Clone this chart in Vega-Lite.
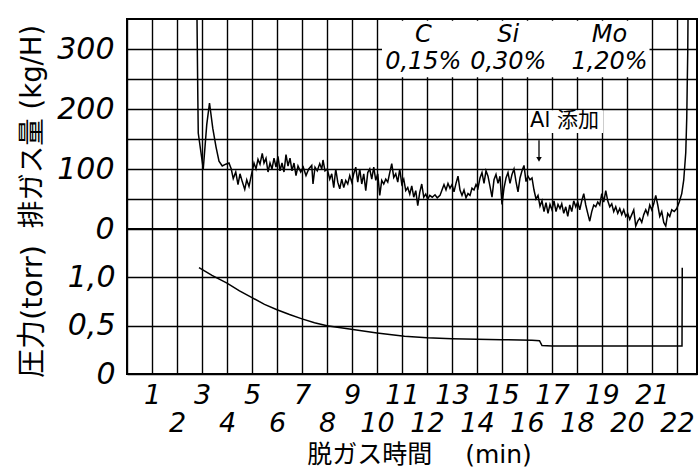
{
"$schema": "https://vega.github.io/schema/vega-lite/v6.json",
"background": "white",
"padding": {"left": 16, "top": 15, "right": 2, "bottom": 2},
"spacing": 0,
"bounds": "flush",
"config": {
  "view": {"stroke": "black", "strokeWidth": 2},
  "axis": {"gridColor": "black", "gridWidth": 1.4, "gridOpacity": 1, "domain": false, "ticks": false, "labelColor": "black", "titleColor": "black", "labelFont": "DejaVu Sans", "labelFontStyle": "italic", "labelFontWeight": "normal", "titleFont": "DejaVu Sans, Noto Sans CJK JP", "titleFontWeight": "normal", "labelOverlap": false, "labelBound": false, "labelFlush": false}
},
"datasets": {
"gas": [
{"t":2.8,"v":350},{"t":2.83,"v":230},{"t":2.85,"v":160},{"t":3.05,"v":100},{"t":3.19,"v":174},{"t":3.3,"v":210},{"t":3.43,"v":168},{"t":3.56,"v":137},{"t":3.68,"v":113},{"t":3.81,"v":105},
{"t":3.95,"v":108},{"t":4.08,"v":110},{"t":4.17,"v":100},{"t":4.25,"v":84},{"t":4.35,"v":95},{"t":4.44,"v":74},{"t":4.52,"v":92},{"t":4.61,"v":79},{"t":4.71,"v":66},{"t":4.79,"v":82},{"t":4.88,"v":71},{"t":4.97,"v":89},{"t":5.08,"v":110},{"t":5.16,"v":100},{"t":5.24,"v":116},{"t":5.32,"v":108},{"t":5.41,"v":126},{"t":5.48,"v":110},{"t":5.56,"v":118},{"t":5.64,"v":95},{"t":5.72,"v":110},{"t":5.80,"v":100},{"t":5.88,"v":118},{"t":5.96,"v":103},{"t":6.04,"v":121},{"t":6.12,"v":97},{"t":6.20,"v":110},{"t":6.28,"v":95},{"t":6.36,"v":124},{"t":6.44,"v":105},{"t":6.52,"v":118},{"t":6.60,"v":97},{"t":6.68,"v":110},{"t":6.76,"v":89},{"t":6.84,"v":105},{"t":6.95,"v":95},{"t":7.05,"v":103},{"t":7.16,"v":89},{"t":7.27,"v":100},
{"t":7.39,"v":106},{"t":7.44,"v":75},{"t":7.52,"v":103},{"t":7.61,"v":97},{"t":7.71,"v":109},{"t":7.79,"v":100},{"t":7.84,"v":115},{"t":7.92,"v":97},{"t":8.01,"v":100},{"t":8.11,"v":83},{"t":8.19,"v":92},{"t":8.27,"v":69},{"t":8.35,"v":100},{"t":8.43,"v":78},{"t":8.51,"v":67},{"t":8.59,"v":83},{"t":8.67,"v":69},{"t":8.75,"v":81},{"t":8.83,"v":75},{"t":8.91,"v":89},{"t":8.99,"v":78},{"t":9.07,"v":92},{"t":9.15,"v":103},{"t":9.23,"v":78},{"t":9.31,"v":100},{"t":9.39,"v":75},{"t":9.47,"v":92},{"t":9.55,"v":64},{"t":9.63,"v":94},{"t":9.71,"v":100},{"t":9.79,"v":83},{"t":9.87,"v":103},{"t":9.95,"v":81},{"t":10.03,"v":92},{"t":10.11,"v":56},{"t":10.19,"v":81},{"t":10.27,"v":75},{"t":10.35,"v":83},{"t":10.43,"v":78},{"t":10.51,"v":94},{"t":10.59,"v":109},{"t":10.67,"v":86},{"t":10.75,"v":92},{"t":10.83,"v":78},{"t":10.91,"v":100},{"t":10.99,"v":75},{"t":11.07,"v":83},{"t":11.15,"v":64},{"t":11.23,"v":69},{"t":11.31,"v":58},{"t":11.39,"v":72},{"t":11.47,"v":53},{"t":11.55,"v":64},{"t":11.63,"v":39},{"t":11.71,"v":61},{"t":11.79,"v":75},{"t":11.87,"v":53},{"t":11.95,"v":58},{"t":12.03,"v":50},{"t":12.11,"v":56},{"t":12.21,"v":53},{"t":12.32,"v":57},
{"t":12.41,"v":52},{"t":12.52,"v":56},{"t":12.60,"v":65},{"t":12.68,"v":74},{"t":12.76,"v":65},{"t":12.84,"v":76},{"t":12.92,"v":68},{"t":13.00,"v":74},{"t":13.08,"v":62},{"t":13.16,"v":76},{"t":13.24,"v":88},{"t":13.32,"v":65},{"t":13.40,"v":56},{"t":13.48,"v":65},{"t":13.56,"v":52},{"t":13.64,"v":59},{"t":13.72,"v":56},{"t":13.80,"v":68},{"t":13.88,"v":65},{"t":13.96,"v":74},{"t":14.04,"v":68},{"t":14.12,"v":85},{"t":14.20,"v":94},{"t":14.28,"v":76},{"t":14.36,"v":97},{"t":14.44,"v":88},{"t":14.52,"v":71},{"t":14.60,"v":53},{"t":14.68,"v":82},{"t":14.76,"v":91},{"t":14.84,"v":76},{"t":14.92,"v":88},{"t":15.00,"v":41},{"t":15.08,"v":68},{"t":15.16,"v":85},{"t":15.24,"v":94},{"t":15.32,"v":76},{"t":15.40,"v":91},{"t":15.48,"v":100},{"t":15.56,"v":79},{"t":15.64,"v":62},{"t":15.72,"v":85},{"t":15.80,"v":97},{"t":15.88,"v":106},{"t":15.96,"v":79},{"t":16.04,"v":88},{"t":16.12,"v":82},{"t":16.20,"v":85},{"t":16.28,"v":65},{"t":16.36,"v":50},{"t":16.44,"v":56},{"t":16.52,"v":38},{"t":16.60,"v":47},{"t":16.68,"v":29},{"t":16.76,"v":44},{"t":16.84,"v":26},{"t":16.92,"v":41},{"t":17.00,"v":32},{"t":17.08,"v":47},{"t":17.16,"v":29},{"t":17.24,"v":41},
{"t":17.32,"v":34},{"t":17.39,"v":42},{"t":17.47,"v":26},{"t":17.55,"v":37},{"t":17.63,"v":21},{"t":17.71,"v":40},{"t":17.79,"v":29},{"t":17.87,"v":47},{"t":17.95,"v":37},{"t":18.03,"v":45},{"t":18.11,"v":32},{"t":18.19,"v":47},{"t":18.27,"v":59},{"t":18.35,"v":40},{"t":18.43,"v":26},{"t":18.51,"v":13},{"t":18.59,"v":29},{"t":18.67,"v":40},{"t":18.75,"v":37},{"t":18.83,"v":45},{"t":18.91,"v":40},{"t":18.99,"v":59},{"t":19.07,"v":45},{"t":19.15,"v":64},{"t":19.23,"v":47},{"t":19.31,"v":37},{"t":19.39,"v":42},{"t":19.47,"v":29},{"t":19.55,"v":37},{"t":19.63,"v":26},{"t":19.71,"v":34},{"t":19.79,"v":24},{"t":19.87,"v":32},{"t":19.95,"v":21},{"t":20.03,"v":26},{"t":20.11,"v":16},{"t":20.19,"v":24},{"t":20.27,"v":32},{"t":20.35,"v":5},{"t":20.43,"v":13},{"t":20.51,"v":18},{"t":20.59,"v":11},{"t":20.67,"v":24},{"t":20.75,"v":32},{"t":20.83,"v":24},{"t":20.91,"v":40},{"t":20.99,"v":32},{"t":21.07,"v":42},{"t":21.15,"v":56},{"t":21.23,"v":40},{"t":21.31,"v":21},{"t":21.39,"v":29},{"t":21.47,"v":11},{"t":21.55,"v":5},{"t":21.63,"v":26},{"t":21.71,"v":21},{"t":21.79,"v":32},{"t":21.89,"v":29},{"t":21.99,"v":34},{"t":22.09,"v":45},{"t":22.19,"v":59},{"t":22.27,"v":82},{"t":22.35,"v":127},{"t":22.39,"v":185},{"t":22.41,"v":242},{"t":22.43,"v":296},{"t":22.44,"v":350}
],
"pressure": [
{"t":2.88,"v":1.10},{"t":3.4,"v":1.02},{"t":4.0,"v":0.94},{"t":4.5,"v":0.86},{"t":5.0,"v":0.79},{"t":5.5,"v":0.72},{"t":6.0,"v":0.665},{"t":6.5,"v":0.615},{"t":7.0,"v":0.57},{"t":7.5,"v":0.53},{"t":8.0,"v":0.50},{"t":8.9,"v":0.465},{"t":10.0,"v":0.425},{"t":11.1,"v":0.39},{"t":12.0,"v":0.375},{"t":13.0,"v":0.365},{"t":14.0,"v":0.36},{"t":15.0,"v":0.355},{"t":16.2,"v":0.35},{"t":16.5,"v":0.345},{"t":16.6,"v":0.295},{"t":17.0,"v":0.29},{"t":20.0,"v":0.29},{"t":22.2,"v":0.29},{"t":22.21,"v":1.1}
]
},
"vconcat": [
{
  "width": 570, "height": 210,
  "resolve": {"axis": {"x": "independent", "y": "independent"}},
  "layer": [
    {"data": {"name": "gas"}, "mark": {"type": "line", "color": "black", "strokeWidth": 1.5},
     "encoding": {
       "x": {"field": "t", "type": "quantitative", "scale": {"domain": [0, 22.8], "nice": false, "zero": false},
             "axis": {"values": [0,1,2,3,4,5,6,7,8,9,10,11,12,13,14,15,16,17,18,19,20,21,22], "labels": false, "title": null, "grid": true, "minExtent": 0, "maxExtent": 0}},
       "y": {"field": "v", "type": "quantitative", "scale": {"domain": [0, 350], "nice": false},
             "axis": {"values": [0,50,100,150,200,250,300], "grid": true, "labelExpr": "datum.value % 100 == 0 ? datum.label : ''", "labelFontSize": 30, "labelPadding": 13, "title": "排ガス量 (kg/H)", "titleFontSize": 27.5, "titleX": -95, "titleY": 107, "titleAngle": -90, "titleAlign": "center", "titleBaseline": "middle", "minExtent": 80, "maxExtent": 80}}
     }},
    {"data": {"values": [{}]}, "mark": {"type": "rect", "fill": "white"}, "encoding": {"x": {"datum": 10.2, "axis": null}, "x2": {"datum": 20.9}, "y": {"datum": 253, "axis": null}, "y2": {"datum": 347}}},
    {"data": {"values": [{}]}, "mark": {"type": "rect", "fill": "white"}, "encoding": {"x": {"datum": 16.04, "axis": null}, "x2": {"datum": 19.04}, "y": {"datum": 160, "axis": null}, "y2": {"datum": 198}}},
    {"data": {"values": [{}]}, "mark": {"type": "text", "font": "DejaVu Sans", "fontStyle": "italic", "fontSize": 24, "align": "center", "baseline": "top", "lineHeight": 27, "color": "black"}, "encoding": {"x": {"datum": 11.85, "axis": null}, "y": {"datum": 343, "axis": null}, "text": {"value": ["C", "0,15%"]}}},
    {"data": {"values": [{}]}, "mark": {"type": "text", "font": "DejaVu Sans", "fontStyle": "italic", "fontSize": 24, "align": "center", "baseline": "top", "lineHeight": 27, "color": "black"}, "encoding": {"x": {"datum": 15.25, "axis": null}, "y": {"datum": 343, "axis": null}, "text": {"value": ["Si", "0,30%"]}}},
    {"data": {"values": [{}]}, "mark": {"type": "text", "font": "DejaVu Sans", "fontStyle": "italic", "fontSize": 24, "align": "center", "baseline": "top", "lineHeight": 27, "color": "black"}, "encoding": {"x": {"datum": 19.3, "axis": null}, "y": {"datum": 343, "axis": null}, "text": {"value": ["Mo", "1,20%"]}}},
    {"data": {"values": [{}]}, "mark": {"type": "text", "font": "DejaVu Sans, Noto Sans CJK JP", "fontSize": 21, "align": "center", "baseline": "middle", "color": "black"}, "encoding": {"x": {"datum": 17.5, "axis": null}, "y": {"datum": 180, "axis": null}, "text": {"value": "Al 添加"}}},
    {"data": {"values": [{}]}, "mark": {"type": "rule", "color": "black", "strokeWidth": 1.3}, "encoding": {"x": {"datum": 16.48, "axis": null}, "y": {"datum": 148, "axis": null}, "y2": {"datum": 118}}},
    {"data": {"values": [{}]}, "mark": {"type": "point", "shape": "triangle-down", "filled": true, "color": "black", "size": 30, "opacity": 1}, "encoding": {"x": {"datum": 16.48, "axis": null}, "y": {"datum": 116, "axis": null}}}
  ]
},
{
  "width": 570, "height": 145,
  "layer": [
    {"data": {"name": "pressure"}, "mark": {"type": "line", "color": "black", "strokeWidth": 1.5},
     "encoding": {
       "x": {"field": "t", "type": "quantitative", "scale": {"domain": [0, 22.8], "nice": false, "zero": false},
             "axis": {"values": [0,1,2,3,4,5,6,7,8,9,10,11,12,13,14,15,16,17,18,19,20,21,22], "grid": true, "labelExpr": "datum.value == 0 ? '' : (datum.value % 2 == 0 ? ['', datum.label] : datum.label)", "labelFontSize": 27, "labelPadding": 8, "labelLineHeight": 28, "labelBaseline": "top", "title": "脱ガス時間　 (min)", "titleFontSize": 25, "titleX": 292, "titleY": 80, "titleAlign": "center", "titleBaseline": "middle"}},
       "y": {"field": "v", "type": "quantitative", "scale": {"domain": [0, 1.5], "nice": false},
             "axis": {"values": [0, 0.5, 1], "grid": true, "labelExpr": "datum.value == 0 ? '0' : datum.value == 0.5 ? '0,5' : '1,0'", "labelFontSize": 30, "labelPadding": 12, "title": "圧力(torr)", "titleFontSize": 29, "titleX": -95, "titleY": 82, "titleAngle": -90, "titleAlign": "center", "titleBaseline": "middle", "minExtent": 80, "maxExtent": 80}}
     }}
  ]
}
]
}
